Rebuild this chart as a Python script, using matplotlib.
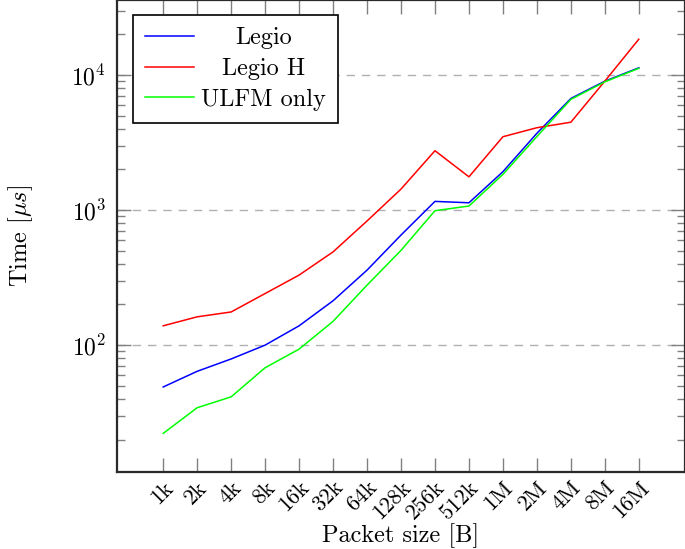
import matplotlib
matplotlib.use("Agg")
from matplotlib import pyplot as plt
from matplotlib.ticker import LogLocator, NullFormatter
import numpy as np

plt.rcParams["font.family"] = ["cmr10", "DejaVu Serif"]
plt.rcParams["mathtext.fontset"] = "cm"
plt.rcParams["axes.formatter.use_mathtext"] = True

# packet sizes and timings (microseconds)
sizes = ["1k", "2k", "4k", "8k", "16k", "32k", "64k", "128k", "256k",
         "512k", "1M", "2M", "4M", "8M", "16M"]
legio = [49, 64, 79, 100, 139, 213, 359, 653, 1159, 1132, 1923, 3700, 6700, 9000, 11300]
legio_h = [139, 162, 176, 241, 330, 490, 830, 1430, 2750, 1762, 3490, 4070, 4470, 9000, 18400]
ulfm = [22.2, 34.4, 41.4, 68, 93.4, 150, 278, 503, 989, 1071, 1838, 3500, 6600, 8900, 11200]

fig = plt.figure(figsize=(6.85, 5.49), dpi=100)
ax = fig.add_axes([117 / 685, 1 - 472 / 549, 1 - 117 / 685, 472 / 549])

x = np.arange(len(sizes))
ax.plot(x, legio, color="#0000ff", lw=1.1, label="Legio")
ax.plot(x, legio_h, color="#ff0000", lw=1.1, label="Legio H")
ax.plot(x, ulfm, color="#00ff00", lw=1.1, label="ULFM only")

ax.set_yscale("log")
ax.set_ylim(11.5, 35900)
ax.set_xlim(-1.36, 15.36)
ax.set_xticks(x)
ax.set_xticklabels(sizes, rotation=45, ha="right", rotation_mode="anchor", fontsize=16)
ax.yaxis.set_major_locator(LogLocator(base=10, numticks=10))
ax.yaxis.set_minor_locator(LogLocator(base=10, subs=np.arange(2, 10), numticks=20))
ax.yaxis.set_minor_formatter(NullFormatter())
ax.tick_params(axis="y", labelsize=17)

ax.tick_params(which="both", direction="in", top=True, right=True, color="#808080")
ax.tick_params(which="major", length=10, width=1.0)
ax.tick_params(which="minor", length=6, width=1.0)
ax.tick_params(axis="x", pad=4)
ax.tick_params(axis="y", pad=8)

ax.grid(axis="y", which="major", color="#b0b0b0", linestyle=(0, (6, 5)), lw=1.0)
for s in ax.spines.values():
    s.set_linewidth(1.6)
    s.set_color("#2a2a2a")

ax.set_xlabel("Packet size [B]", fontsize=17.5, labelpad=0)
ax.set_ylabel(r"Time [$\mu s$]", fontsize=17.5, labelpad=26)

leg = ax.legend(loc="upper left", bbox_to_anchor=(0.028, 0.968), fontsize=17.5,
                fancybox=False, edgecolor="black", framealpha=1,
                handlelength=2.0, handletextpad=0.3, borderpad=0.5,
                labelspacing=0.35, borderaxespad=0)
leg.get_frame().set_linewidth(1.2)

# center the legend texts like pgfplots does
fig.canvas.draw()
r = fig.canvas.get_renderer()
ws = [t.get_window_extent(r).width for t in leg.get_texts()]
for t, w in zip(leg.get_texts(), ws):
    t.set_x((max(ws) - w) / 2)

fig.savefig("out.png", dpi=100)
